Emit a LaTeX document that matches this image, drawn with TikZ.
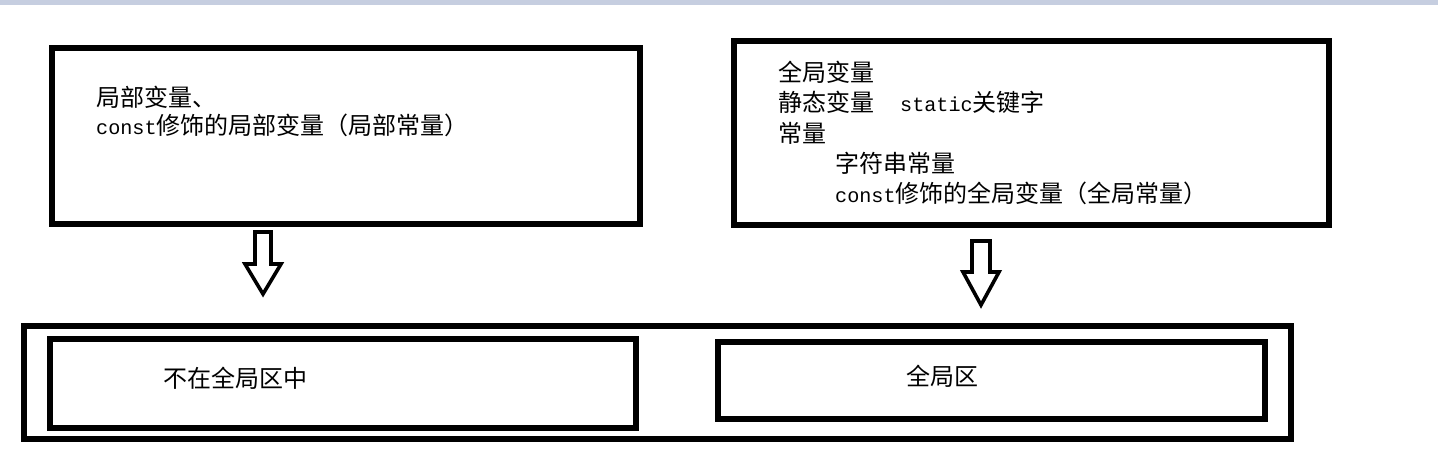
\documentclass[tikz,border=0pt]{standalone}
\usepackage{fontspec}
\newfontfamily\cjk{Noto Sans CJK SC}
\newfontfamily\codefont{Liberation Mono}[Scale=0.84]
\usetikzlibrary{calc}
\definecolor{topband}{RGB}{198,206,224}
\tikzset{
	memblock/.style={draw, line width=6pt, inner sep=0pt},
	blockarrow/.style={draw, line width=3.6pt, line join=miter},
	memtext/.style={anchor=west, align=left, inner sep=0pt, font=\cjk\fontsize{24}{30.2}\selectfont}
}
\begin{document}
\begin{tikzpicture}[x=1pt,y=-1pt]
	\useasboundingbox (0,0) rectangle (1438,474);
	\fill[topband] (0,0) rectangle (1438,5);
%		upper boxes
	\node[memblock, minimum width=587.5, minimum height=176] (locbox) at (345.75,136) {};
	\node[memblock, minimum width=595.5, minimum height=184.5] (globox) at (1031.25,132.75) {};
	\node[memtext, font=\cjk\fontsize{24}{28}\selectfont] (loctext) at (96,111)
		{局部变量、\\{\codefont const}修饰的局部变量（局部常量）};
	\node[memtext] (glotext) at (778,133)
		{全局变量\\
		静态变量\hspace{26pt}{\codefont static}关键字\\
		常量\\
		\hspace*{57pt}字符串常量\\
		\hspace*{57pt}{\codefont const}修饰的全局变量（全局常量）};
%		lower boxes
	\node[memblock, minimum width=1267, minimum height=113] (membox) at (657.5,382.5) {};
	\node[memblock, minimum width=586, minimum height=88.5] (notglobal) at (343,383.25) {};
	\node[memblock, minimum width=547, minimum height=77] (globalarea) at (991.5,380.5) {};
	\node[memtext] (notglobaltext) at (163,378) {不在全局区中};
	\node[memtext] (globalareatext) at (906,376) {全局区};
%		hollow arrows
	\coordinate (locdown) at (263,232);
	\coordinate (glodown) at (981,241);
	\draw[blockarrow] (locdown) ++(-8,0) -- ++(0,32) -- ++(-10,0) -- ++(18,30)
		-- ++(18,-30) -- ++(-10,0) -- ++(0,-32) -- cycle;
	\draw[blockarrow] (glodown) ++(-9,0) -- ++(0,31) -- ++(-9,0) -- ++(18,33)
		-- ++(18,-33) -- ++(-9,0) -- ++(0,-31) -- cycle;
\end{tikzpicture}
\end{document}
